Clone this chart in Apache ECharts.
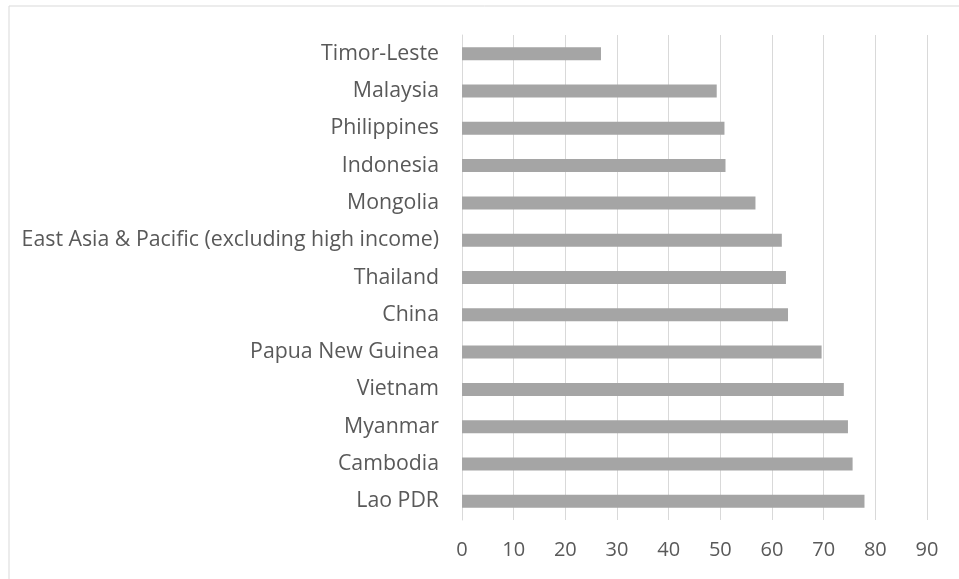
<!DOCTYPE html>
<html>
<head>
<meta charset="utf-8">
<script src="https://cdn.jsdelivr.net/npm/echarts@6/dist/echarts.min.js"></script>
<style>html,body{margin:0;padding:0;background:#fff}#c{width:959px;height:579px}</style>
</head>
<body>
<div id="c"></div>
<script>
const categories = ["Lao PDR","Cambodia","Myanmar","Vietnam","Papua New Guinea","China","Thailand","East Asia & Pacific (excluding high income)","Mongolia","Indonesia","Philippines","Malaysia","Timor-Leste"];
const values = [77.9,75.6,74.7,73.9,69.6,63.1,62.7,61.9,56.8,51.0,50.8,49.3,26.9];
const xTicks = [0,10,20,30,40,50,60,70,80,90];

const chart = echarts.init(document.getElementById('c'), null, {renderer:'canvas'});
chart.setOption({
  animation:false,
  backgroundColor:'#ffffff',
  graphic:[{type:'rect',shape:{x:9,y:6,width:1000,height:1000},style:{fill:'none',stroke:'#d9d9d9',lineWidth:1}}],
  grid:{left:462,right:32,top:35,bottom:59,containLabel:false},
  xAxis:{type:'value',min:xTicks[0],max:xTicks[xTicks.length-1],interval:10,
    axisLine:{show:false},axisTick:{show:false},
    splitLine:{show:true,lineStyle:{color:'#d9d9d9',width:1}},
    axisLabel:{color:'#595959',fontSize:20,fontFamily:'Open Sans',margin:20}},
  yAxis:{type:'category',data:categories,
    axisLine:{show:true,lineStyle:{color:'#d9d9d9'}},axisTick:{show:false},
    axisLabel:{color:'#595959',fontSize:21.3,fontFamily:'Open Sans',margin:23}},
  series:[{type:'bar',data:values,barWidth:13,itemStyle:{color:'#a5a5a5'}}]
});
</script>
</body>
</html>
